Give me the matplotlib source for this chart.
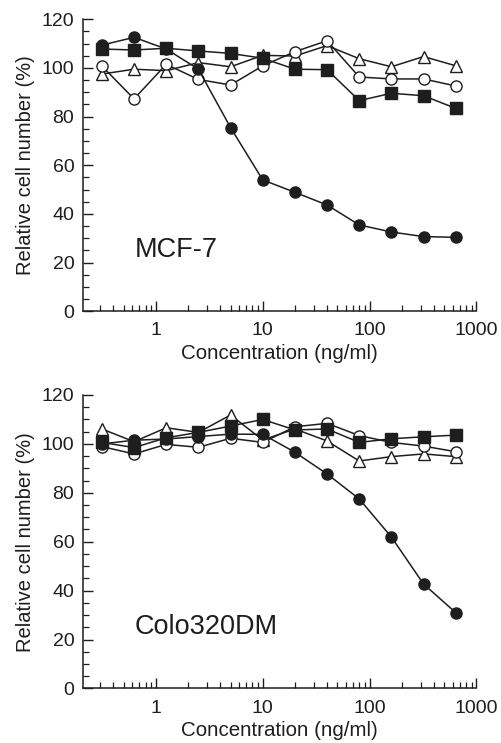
import numpy as np
import matplotlib
matplotlib.use("Agg")
import matplotlib.pyplot as plt
from matplotlib.ticker import FixedLocator, MultipleLocator, NullFormatter

plt.rcParams['font.family'] = ['Liberation Sans', 'DejaVu Sans']

# concentrations (ng/ml)
conc = [0.3125, 0.625, 1.25, 2.5, 5, 10, 20, 40, 80, 160, 320, 640]

# MCF-7
mcf_fcircle = [109.4, 112.6, 107.8, 99.5, 75.5, 54.0, 48.9, 43.7, 35.5, 32.6, 30.7, 30.4]
mcf_fsquare = [107.8, 107.4, 108.1, 107.0, 106.0, 104.0, 99.5, 99.3, 86.6, 89.6, 88.6, 83.4]
mcf_ocircle = [100.8, 87.3, 101.5, 95.3, 93.0, 100.9, 106.7, 111.2, 96.3, 95.5, 95.5, 92.6]
mcf_otri = [97.5, 99.5, 98.9, 102.2, 100.5, 105.2, 104.9, 109.2, 103.8, 100.5, 104.7, 100.9]

# Colo320DM
colo_fcircle = [100.0, 101.5, 102.0, 103.0, 104.0, 103.9, 96.6, 87.7, 77.5, 61.9, 42.7, 31.0]
colo_fsquare = [100.6, 98.5, 102.5, 104.7, 107.3, 110.0, 105.7, 106.1, 100.6, 102.1, 102.9, 103.6]
colo_ocircle = [98.9, 95.9, 99.8, 98.6, 102.3, 100.6, 107.0, 108.4, 103.4, 100.6, 99.1, 96.8]
colo_otri = [106.1, 100.9, 106.6, 104.7, 111.8, 101.6, 106.1, 101.2, 93.0, 94.8, 95.9, 94.8]

ink = "#1e1e1e"

fig = plt.figure(figsize=(5.01, 7.43), dpi=100)
ax1 = fig.add_axes([0.165, 0.581, 0.786, 0.393])
ax2 = fig.add_axes([0.165, 0.0734, 0.786, 0.395])


def draw_panel(ax, fc, fs, oc, ot, label):
    kw = dict(color=ink, lw=1.1, markersize=8, markeredgewidth=1.0)
    ax.plot(conc, ot, marker='^', markerfacecolor='white', markeredgecolor=ink, **kw)
    ax.plot(conc, oc, marker='o', markerfacecolor='white', markeredgecolor=ink, **kw)
    ax.plot(conc, fs, marker='s', markerfacecolor=ink, markeredgecolor=ink, **kw)
    ax.plot(conc, fc, marker='o', markerfacecolor=ink, markeredgecolor=ink, **kw)

    ax.set_xscale('log')
    ax.set_xlim(0.2065, 1000)
    ax.set_ylim(0, 120)
    ax.xaxis.set_major_locator(FixedLocator([1, 10, 100, 1000]))
    ax.set_xticklabels(['1', '10', '100', '1000'])
    minors = [m * 10.0 ** e for e in range(-1, 3) for m in range(2, 10)]
    ax.xaxis.set_minor_locator(FixedLocator([v for v in minors if v > 0.2065]))
    ax.xaxis.set_minor_formatter(NullFormatter())
    ax.yaxis.set_major_locator(MultipleLocator(20))
    ax.yaxis.set_minor_locator(MultipleLocator(5))

    for side in ['top', 'right']:
        ax.spines[side].set_visible(False)
    for side in ['left', 'bottom']:
        ax.spines[side].set_linewidth(1.1)
        ax.spines[side].set_color(ink)
    ax.tick_params(which='major', direction='in', length=7, width=1.0, colors=ink,
                   labelsize=14, pad=6)
    ax.tick_params(which='minor', direction='in', length=4, width=0.9, colors=ink)
    ax.tick_params(axis='x', which='major', pad=8)

    ax.set_xlabel('Concentration (ng/ml)', fontsize=14.8, color=ink, labelpad=3)
    ax.set_ylabel('Relative cell number (%)', fontsize=14.5, color=ink, labelpad=5)
    ax.text(0.637, 25, label, fontsize=19.5, color=ink, va='center', ha='left')


draw_panel(ax1, mcf_fcircle, mcf_fsquare, mcf_ocircle, mcf_otri, 'MCF-7')
draw_panel(ax2, colo_fcircle, colo_fsquare, colo_ocircle, colo_otri, 'Colo320DM')

fig.savefig('out.png', dpi=100, facecolor='white')
